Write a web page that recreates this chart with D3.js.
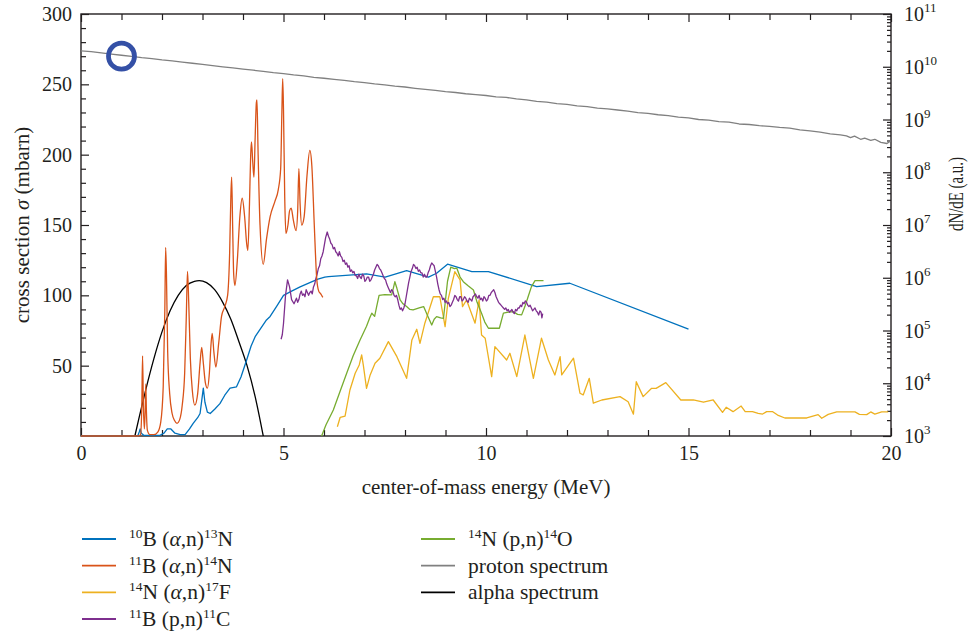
<!DOCTYPE html>
<html><head><meta charset="utf-8">
<script src="https://cdn.jsdelivr.net/npm/d3@7"></script>
<style>
* { font-family: "Liberation Serif" !important; }
body{margin:0;background:#fff}
svg{display:block}
</style></head>
<body><svg id="chart" width="969" height="637" font-family="Liberation Serif"></svg>
<script>
// ---------- data ----------
const xTickValues = [0, 5, 10, 15, 20];
const yTickValues = [50, 100, 150, 200, 250, 300];
const rightExponents = [3, 4, 5, 6, 7, 8, 9, 10, 11];

// 10B(α,n)13N  [E (MeV), σ (mbarn)]
const b10an = [[0,0],[1.40,0],[1.44,3],[1.46,5],[1.49,2],[1.55,0.5],[1.75,0.5],[1.95,0.5],[2.05,2],[2.13,5],[2.22,5],[2.32,2],[2.45,1],[2.57,1],[2.68,5],[2.77,9],[2.88,13],[2.94,16],[2.98,25],[3.02,34],[3.06,24],[3.12,17],[3.19,16],[3.30,19],[3.43,23],[3.55,29],[3.68,34],[3.84,35],[3.95,42],[4.09,54],[4.20,64],[4.30,70.6],[4.45,77],[4.58,82.5],[4.67,85],[4.85,93],[5.00,100],[5.20,103],[5.41,106],[5.65,109],[5.85,111.5],[6.02,113],[6.11,113.3],[7.05,115.2],[7.51,112.9],[8.04,117.6],[8.58,112.9],[8.78,115.7],[9.05,122.1],[9.65,116.9],[10.06,116.9],[11.25,106.2],[12.07,108.6],[15.0,76]];

// 11B(α,n)14N
const b11an = [[0,0],[1.40,0],[1.47,1],[1.50,20],[1.52,57],[1.54,22],[1.565,5],[1.585,18],[1.60,37],[1.615,18],[1.64,4],[1.70,1],[1.80,1],[1.90,3],[1.97,10],[2.03,35],[2.07,90],[2.09,134],[2.11,115],[2.14,60],[2.19,30],[2.25,16],[2.31,11],[2.37,9],[2.44,12],[2.50,22],[2.56,45],[2.60,85],[2.63,117],[2.66,95],[2.70,55],[2.75,32],[2.81,22],[2.88,30],[2.94,52],[2.98,63],[3.02,52],[3.07,38],[3.12,34],[3.17,45],[3.21,65],[3.24,73],[3.28,60],[3.33,49],[3.40,66],[3.47,85],[3.55,92],[3.62,100],[3.67,130],[3.70,170],[3.72,184],[3.745,148],[3.77,115],[3.80,107],[3.86,125],[3.92,155],[3.98,169],[4.04,156],[4.09,137],[4.12,132],[4.16,165],[4.19,200],[4.21,209],[4.24,195],[4.27,184],[4.30,212],[4.33,237],[4.345,239],[4.37,205],[4.42,150],[4.50,122],[4.58,140],[4.67,156],[4.79,167],[4.87,175],[4.93,190],[4.96,230],[4.98,254],[5.00,232],[5.03,170],[5.06,144],[5.11,150],[5.15,160],[5.19,162],[5.24,154],[5.31,146],[5.35,160],[5.38,190],[5.41,165],[5.45,150],[5.51,156],[5.58,185],[5.65,203],[5.70,192],[5.76,150],[5.82,112],[5.87,103],[5.92,101],[5.97,98.6]];

// 14N(α,n)17F
const n14an = [[6.33,6.6],[6.40,13.3],[6.52,14.2],[6.64,32.7],[6.77,44.6],[6.87,50.5],[6.93,57.6],[6.97,50.5],[7.05,33.9],[7.14,43.4],[7.26,51.7],[7.38,55.3],[7.59,67.1],[7.80,56.4],[8.04,41],[8.17,68.3],[8.29,75.9],[8.37,65.9],[8.49,80.2],[8.70,99],[8.86,99],[8.99,77.7],[9.07,97.9],[9.23,116.9],[9.36,111],[9.42,92],[9.52,96.7],[9.73,80.2],[9.83,96.7],[9.89,71.8],[9.98,69.5],[10.14,42.2],[10.22,63.5],[10.51,54],[10.59,58.8],[10.76,42.2],[10.96,71.8],[11.17,41],[11.37,69.5],[11.54,54],[11.70,43.4],[11.83,56.4],[11.87,43.4],[12.16,55.3],[12.32,30.4],[12.40,29.2],[12.55,41],[12.65,23.3],[12.86,25.6],[13.31,28],[13.51,24.4],[13.64,15.5],[13.71,38.6],[13.88,28],[14.09,33.9],[14.2,33.9],[14.44,37.9],[14.81,25.6],[15.12,25.6],[15.37,24],[15.61,25.6],[15.84,16.8],[15.93,20.4],[16.1,17.3],[16.3,21.3],[16.4,17.3],[16.58,17.3],[16.72,16.1],[16.83,15.6],[16.93,17.3],[17.08,17.3],[17.2,14.9],[17.38,12.8],[17.92,12.8],[18.2,15.2],[18.29,12.6],[18.45,15.4],[18.66,17.1],[19.11,17.1],[19.22,15.4],[19.4,15.2],[19.5,17.1],[19.6,15.6],[19.77,17.1],[19.93,17.1]];

// 11B(p,n)11C
const b11pn = [[4.94,68.8],[4.97,72],[5.00,80],[5.05,100],[5.10,111],[5.15,106],[5.20,97],[5.26,94],[5.29,96],[5.32,98],[5.35,95],[5.38,97],[5.41,101],[5.44,103],[5.47,100],[5.50,101],[5.53,99],[5.56,104],[5.59,102],[5.62,100],[5.65,102],[5.68,103],[5.71,101],[5.74,106],[5.77,108],[5.80,112],[5.83,115],[5.86,119],[5.89,121],[5.92,126],[5.95,128],[5.98,131],[6.01,136],[6.04,141],[6.08,145],[6.11,142],[6.14,140],[6.17,137],[6.20,136],[6.23,133],[6.26,134],[6.29,131],[6.32,130],[6.35,128],[6.38,131],[6.41,128],[6.44,127],[6.47,124],[6.50,125],[6.53,122],[6.56,123],[6.59,120],[6.62,121],[6.65,117],[6.68,118],[6.71,116],[6.74,117],[6.77,114],[6.80,114],[6.83,112],[6.86,115],[6.89,113],[6.92,112],[6.95,115],[6.98,114],[7.01,110],[7.04,111],[7.07,113],[7.10,113],[7.13,110],[7.16,111],[7.19,113],[7.22,115],[7.25,118],[7.28,120],[7.31,122],[7.34,121],[7.37,119],[7.40,118],[7.43,116],[7.46,114],[7.49,112],[7.52,111],[7.55,108],[7.58,106],[7.61,104],[7.64,102],[7.67,104],[7.70,103],[7.73,100],[7.76,99],[7.79,100],[7.82,97],[7.85,93],[7.88,90],[7.91,91],[7.94,89],[7.97,91],[8.00,94],[8.03,99],[8.06,104],[8.09,109],[8.12,113],[8.15,117],[8.18,119],[8.21,122],[8.24,121],[8.27,119],[8.30,120],[8.33,117],[8.36,118],[8.39,116],[8.42,116],[8.45,113],[8.48,115],[8.51,113],[8.54,113],[8.57,116],[8.60,118],[8.63,121],[8.66,123],[8.69,122],[8.72,121],[8.75,117],[8.78,113],[8.81,108],[8.84,104],[8.87,101],[8.90,100],[8.93,97],[8.96,98],[8.99,95],[9.02,96],[9.05,94],[9.08,95],[9.11,92],[9.14,93],[9.17,95],[9.20,97],[9.23,100],[9.26,99],[9.29,97],[9.32,96],[9.35,99],[9.38,99],[9.41,96],[9.44,97],[9.47,99],[9.50,98],[9.53,96],[9.56,95],[9.59,98],[9.62,97],[9.65,96],[9.68,99],[9.71,100],[9.74,101],[9.77,99],[9.80,98],[9.83,100],[9.86,97],[9.89,98],[9.92,96],[9.95,99],[9.98,98],[10.01,96],[10.04,97],[10.07,100],[10.10,100],[10.13,102],[10.16,103],[10.19,104],[10.22,102],[10.25,99],[10.28,97],[10.31,95],[10.34,94],[10.37,93],[10.40,92],[10.43,91],[10.46,90],[10.49,91],[10.52,89],[10.55,90],[10.58,88],[10.61,89],[10.64,90],[10.67,88],[10.70,87],[10.73,90],[10.76,89],[10.79,91],[10.82,91],[10.85,93],[10.88,92],[10.91,95],[10.94,94],[10.97,96],[11.00,95],[11.03,93],[11.06,92],[11.09,93],[11.12,91],[11.15,89],[11.18,90],[11.21,91],[11.24,89],[11.27,88],[11.30,86],[11.33,89],[11.36,88],[11.38,84],[11.40,87]];

// 14N(p,n)14O
const n14pn = [[5.94,0],[6.05,8],[6.23,18.5],[6.40,32],[6.56,44.6],[6.72,57],[6.89,68.3],[7.05,78],[7.13,84],[7.18,87.3],[7.25,85],[7.30,92],[7.36,100],[7.50,100.5],[7.67,100.3],[7.72,106],[7.75,109.7],[7.80,105],[7.88,96.7],[7.95,94],[8.04,92],[8.12,90],[8.20,89.6],[8.35,91],[8.46,92],[8.55,86],[8.66,78.9],[8.72,83],[8.78,84.9],[8.88,84],[8.95,83.7],[9.05,110],[9.13,120],[9.22,119],[9.28,119.3],[9.36,113],[9.44,109.7],[9.55,107],[9.69,103.8],[9.78,95],[9.89,87.3],[9.97,81],[10.06,76.6],[10.20,76.6],[10.33,76.6],[10.43,87.3],[10.55,88],[10.67,88.4],[10.78,86.5],[10.88,86.1],[10.96,92],[11.04,99],[11.12,106],[11.21,110.5],[11.42,110.5]];

// proton spectrum: [E, log10(dN/dE)]
const protonLogSpectrum = [[0,10.30],[0.25,10.285],[0.5,10.262],[0.75,10.24],[1.0,10.218],[1.25,10.198],[1.5,10.172],[1.75,10.155],[2.0,10.13],[2.25,10.11],[2.5,10.088],[2.75,10.066],[3.0,10.045],[3.25,10.02],[3.5,9.998],[3.75,9.978],[4.0,9.955],[4.25,9.935],[4.5,9.912],[4.75,9.888],[5.0,9.87],[5.25,9.845],[5.5,9.826],[5.75,9.80],[6.0,9.782],[6.25,9.76],[6.5,9.742],[6.75,9.718],[7.0,9.70],[7.25,9.675],[7.5,9.658],[7.75,9.632],[8.0,9.616],[8.25,9.592],[8.5,9.572],[8.75,9.553],[9.0,9.528],[9.25,9.512],[9.5,9.488],[9.75,9.47],[10.0,9.455],[10.25,9.428],[10.5,9.418],[10.75,9.39],[11.0,9.372],[11.25,9.345],[11.5,9.33],[11.75,9.302],[12.0,9.286],[12.25,9.26],[12.5,9.245],[12.75,9.215],[13.0,9.2],[13.25,9.18],[13.5,9.158],[13.75,9.132],[14.0,9.115],[14.25,9.09],[14.5,9.075],[14.75,9.045],[15.0,9.03],[15.25,9.0],[15.5,8.99],[15.75,8.958],[16.0,8.95],[16.25,8.915],[16.5,8.905],[16.75,8.882],[17.0,8.87],[17.25,8.85],[17.5,8.835],[17.75,8.805],[18.0,8.785],[18.25,8.76],[18.5,8.728],[18.75,8.71],[18.9,8.69],[19.0,8.655],[19.1,8.685],[19.25,8.625],[19.35,8.645],[19.5,8.605],[19.6,8.625],[19.75,8.565],[19.9,8.545],[20.0,8.6]];

// alpha spectrum (plotted on the left scale)
const alphaSpectrum = [[1.33,0],[1.45,15],[1.6,33],[1.8,55],[2.0,74],[2.2,89],[2.4,100],[2.6,107],[2.8,110],[2.92,110.5],[3.1,109],[3.3,104],[3.5,95],[3.7,83],[3.9,67],[4.1,50],[4.3,28],[4.5,0]];

// highlighted marker
const markerPoint = [1, 270];

// ---------- chart ----------
const m = {l: 81, r: 891, t: 14, b: 436};
const svg = d3.select("#chart");
const x = d3.scaleLinear().domain([0, 20]).range([m.l, m.r]);
const yL = d3.scaleLinear().domain([0, 300]).range([m.b, m.t]);
const yR = d3.scaleLog().domain([1e3, 1e11]).range([m.b, m.t]);

const colors = {
  b10an: "#0072BD", b11an: "#D95319", n14an: "#EDB120", b11pn: "#7E2F8E",
  n14pn: "#77AC30", proton: "#808080", alpha: "#000000"
};
const axisColor = "#231f20";

svg.append("defs").append("clipPath").attr("id", "clip")
  .append("rect").attr("x", m.l).attr("y", m.t - 1).attr("width", m.r - m.l).attr("height", m.b - m.t + 2);

// frame
svg.append("rect").attr("x", m.l).attr("y", m.t).attr("width", m.r - m.l).attr("height", m.b - m.t)
  .attr("fill", "none").attr("stroke", axisColor).attr("stroke-width", 1.4);

// axes
function styleAxis(g) {
  g.attr("font-family", "Liberation Serif");
  g.select(".domain").remove();
  g.selectAll(".tick line").attr("stroke", axisColor).attr("stroke-width", 1.2);
  g.selectAll(".tick text").attr("font-size", 20).attr("fill", axisColor);
}

const minorY = d3.range(10, 300, 10).filter(v => v % 50 !== 0);
const minorX = d3.range(1, 20, 1).filter(v => v % 5 !== 0);

svg.append("g").attr("transform", `translate(${m.l},0)`)
  .call(d3.axisLeft(yL).tickValues(yTickValues).tickSizeInner(-8).tickSizeOuter(0).tickPadding(9))
  .call(styleAxis);
svg.append("g").attr("transform", `translate(${m.l},0)`)
  .call(d3.axisLeft(yL).tickValues(minorY).tickSizeInner(-5).tickSizeOuter(0).tickFormat(""))
  .call(styleAxis);

svg.append("g").attr("transform", `translate(0,${m.b})`)
  .call(d3.axisBottom(x).tickValues(xTickValues).tickSizeInner(-8).tickSizeOuter(0).tickPadding(10).tickFormat(d3.format("d")))
  .call(styleAxis);
svg.append("g").attr("transform", `translate(0,${m.b})`)
  .call(d3.axisBottom(x).tickValues(minorX).tickSizeInner(-6).tickSizeOuter(0).tickFormat(""))
  .call(styleAxis);
svg.append("g").attr("transform", `translate(0,${m.t})`)
  .call(d3.axisTop(x).tickValues(xTickValues).tickSizeInner(-8).tickSizeOuter(0).tickFormat(""))
  .call(styleAxis);
svg.append("g").attr("transform", `translate(0,${m.t})`)
  .call(d3.axisTop(x).tickValues(minorX).tickSizeInner(-6).tickSizeOuter(0).tickFormat(""))
  .call(styleAxis);

// right log axis
const majorR = rightExponents.map(e => Math.pow(10, e));
const minorR = [];
rightExponents.slice(0, -1).forEach(e => { for (let k = 2; k <= 9; k++) minorR.push(k * Math.pow(10, e)); });
svg.append("g").attr("transform", `translate(${m.r},0)`)
  .call(d3.axisRight(yR).tickValues(majorR).tickSizeInner(-8).tickSizeOuter(0).tickFormat(""))
  .call(styleAxis);
svg.append("g").attr("transform", `translate(${m.r},0)`)
  .call(d3.axisRight(yR).tickValues(minorR).tickSizeInner(-4).tickSizeOuter(0).tickFormat(""))
  .call(styleAxis);
const rLab = svg.append("g");
rightExponents.forEach(e => {
  const t = rLab.append("text").attr("x", m.r + 13).attr("y", yR(Math.pow(10, e)) + 7)
    .attr("font-size", 20).attr("fill", axisColor);
  t.append("tspan").text("10");
  t.append("tspan").attr("font-size", 13).attr("dy", -9).text(String(e));
});

// data lines drawn over the frame
const plot = svg.append("g").attr("clip-path", "url(#clip)");

function addLine(data, color, curve, yScale, transform) {
  const line = d3.line()
    .x(d => x(d[0]))
    .y(d => yScale(transform ? transform(d[1]) : d[1]))
    .curve(curve);
  plot.append("path").datum(data).attr("d", line)
    .attr("fill", "none").attr("stroke", color).attr("stroke-width", 1.3)
    .attr("stroke-linejoin", "round");
}

addLine(protonLogSpectrum, colors.proton, d3.curveLinear, yR, v => Math.pow(10, v));
addLine(alphaSpectrum, colors.alpha, d3.curveMonotoneX, yL);
addLine(b10an, colors.b10an, d3.curveLinear, yL);
addLine(n14an, colors.n14an, d3.curveLinear, yL);
addLine(n14pn, colors.n14pn, d3.curveLinear, yL);
addLine(b11pn, colors.b11pn, d3.curveLinear, yL);
addLine(b11an, colors.b11an, d3.curveMonotoneX, yL);

svg.append("circle").attr("cx", x(markerPoint[0])).attr("cy", yL(markerPoint[1]))
  .attr("r", 13).attr("fill", "none").attr("stroke", "#3450a6").attr("stroke-width", 4.8);

// axis titles
svg.append("text").attr("x", (m.l + m.r) / 2).attr("y", 494).attr("text-anchor", "middle")
  .attr("font-size", 21).attr("fill", axisColor).text("center-of-mass energy (MeV)");
const lt = svg.append("text").attr("transform", `translate(29,225) rotate(-90)`)
  .attr("text-anchor", "middle").attr("font-size", 21).attr("fill", axisColor);
lt.append("tspan").text("cross section ");
lt.append("tspan").attr("font-style", "italic").text("σ");
lt.append("tspan").text(" (mbarn)");
svg.append("text").attr("transform", `translate(963,194) rotate(-90)`)
  .attr("text-anchor", "middle").attr("font-size", 20).attr("fill", axisColor)
  .attr("textLength", 74).attr("lengthAdjust", "spacingAndGlyphs").text("dN/dE (a.u.)");

// legend
const legendItems = [
  {key: "b10an", col: 0, row: 0, parts: [["10","sup"],["B ("],["α","it"],[",n)"],["13","sup"],["N"]]},
  {key: "b11an", col: 0, row: 1, parts: [["11","sup"],["B ("],["α","it"],[",n)"],["14","sup"],["N"]]},
  {key: "n14an", col: 0, row: 2, parts: [["14","sup"],["N ("],["α","it"],[",n)"],["17","sup"],["F"]]},
  {key: "b11pn", col: 0, row: 3, parts: [["11","sup"],["B (p,n)"],["11","sup"],["C"]]},
  {key: "n14pn", col: 1, row: 0, parts: [["14","sup"],["N (p,n)"],["14","sup"],["O"]]},
  {key: "proton", col: 1, row: 1, parts: [["proton spectrum"]]},
  {key: "alpha", col: 1, row: 2, parts: [["alpha spectrum"]]}
];
const legCols = [82, 421], legRows = [539, 565.7, 592.3, 619];
const lg = svg.append("g");
legendItems.forEach(it => {
  const x0 = legCols[it.col], y0 = legRows[it.row];
  lg.append("line").attr("x1", x0).attr("x2", x0 + 34).attr("y1", y0).attr("y2", y0)
    .attr("stroke", colors[it.key]).attr("stroke-width", 1.8);
  const t = lg.append("text").attr("x", x0 + 47).attr("y", y0 + 7).attr("font-size", 21.5).attr("fill", axisColor);
  let raised = false;
  it.parts.forEach(p => {
    const s = t.append("tspan").text(p[0]);
    if (p[1] === "sup") {
      s.attr("font-size", 13.5);
      if (!raised) { s.attr("dy", -8); raised = true; }
    } else {
      if (raised) { s.attr("dy", 8); raised = false; }
      if (p[1] === "it") s.attr("font-style", "italic");
    }
  });
});

svg.selectAll("text").attr("font-family", "Liberation Serif").style("font-family", '"Liberation Serif"');
</script></body></html>
